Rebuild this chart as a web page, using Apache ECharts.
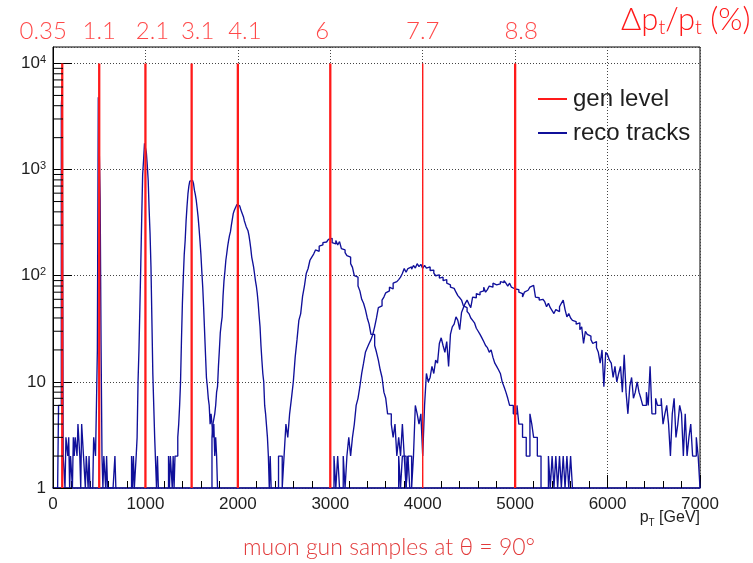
<!DOCTYPE html>
<html><head><meta charset="utf-8">
<script src="https://cdn.jsdelivr.net/npm/echarts@6/dist/echarts.min.js"></script>
<style>html,body{margin:0;padding:0;background:#fff}#c{width:753px;height:563px}</style>
</head><body><div id="c"></div>
<script>
// ---- data ----
const genPt = [100, 500, 1000, 1500, 2000, 3000, 4000, 5000];
const genCount = [10000, 10000, 10000, 10000, 10000, 10000, 10000, 10000];
const resLabels = ['0.35', '1.1', '2.1', '3.1', '4.1', '6', '7.7', '8.8'];
const xTickLabels = [0, 1000, 2000, 3000, 4000, 5000, 6000, 7000];

const recoStart = [50, 430, 850, 1250, 1720, 2400, 3040, 3740];
const recoBin = [10, 10, 10, 10, 10, 20, 20, 20];

const h100 = [1,6,6,6,3900,5900,2,2,1,3,3,2,3,1,2,2,1,3,2,3,3,2,4,4,2,1,4,4,2,2,1,2,2,1,2,1];
const h500 = [1,3,3,2,6,20,4800,4800,530,22,2,1,2,2,1,2,1,1,1,1,1,1,1,1,2,1];
const h1000 = [2,1,2,1,1,2,3,10,20,50,130,355,900,1230,1770,1770,1450,1100,790,420,250,120,38,12,6,3,3,1,2,1];
const h1500 = [2,1,2,2,1,2,1,2,2,2, 3,4,6,10,25,55,97,160,215,330, 450,590,700,780,800,790,760,740,640,580,
  512,430,357,280,215,160,110,78,50,30, 18,11,9,7,6,4,5,4,3,4, 2,3,2,1];
const h2000 = [3,4,4,5,6,8,9,14,20,29, 35,41,65,90,110,140,162,190,215,240, 260,300,340,385,410,430,450,470,465,455,
  440,425,400,380,360,330,310,290,280,265, 240,210,180,150,135,121,105,90,80,68, 55,42,33,22,16,12,10,6,5,5, 3,2,1,2,1];
const h3000 = [1,1,2,2,1,2,4,3,5,7, 10,17,25,38,44,64,80,105,117,140, 150,160,175,170,190,195,205,208,200,220,
  225,205,200,215,195,210,180,175,165,155, 150,130,120,100,97,80,72,60,55,48, 40,35,28,28,22,19,16,13,11,8,
  7,5,5,4,3,4,2,3,2,4, 2,1,2,1];
const h4000 = [2,1,2,1,1,2,1,2,3,2, 3,4,6,7,9,12,15,19,21,23, 25,28,33,40,50,52,59,63,69,72,
  78,75,85,88,90,92,97,105,117,108, 117,121,115,125,118,130,122,128,117,125, 118,121,112,113,106,100,102,95,97,90,
  92,85,82,78,76,73,70,65,62,59, 52,50,46,44,40,38,36,32,30,28, 26,24,22,21,19,20,17,15,14,13,
  12,10,9,8,7,6,6,5,5,6, 4,4,3,3,2,2,5,4,3,3, 2,2,1,1,1,1,2,1,2,1, 2,1,2,1,2,1,2,1,2,1];
const h5000 = [2,1,2,2,1,2,2,1,2,6, 5,4,5,2,6,12,10,11,14,12, 16,15,23,26,22,19,24,14,28,33,
  35,41,38,31,45,50,55,59,54,50, 63,62,68,66,70,72,78,70,74,80, 78,85,82,80,84,88,86,90,85,80,
  85,78,75,73,74,70,68,63,70,73, 75,78,81,80,63,62,59,60,60,57, 51,55,50,47,44,48,46,51,55,59,
  48,41,44,40,38,37,35,36,31,33, 23,30,28,27,25,23,24,21,19,15, 20,9,19,18,16,15,11,14,10,12,
  14,8,18,8,5,9,11,7,8,10, 8,7,6,6,8,6,14,5,5,7, 6,6,7,4,5,6,4,2,5,7, 3,4,6,5,2,5,2,3,4,2,2,3,2];
const recoCounts = [h100, h500, h1000, h1500, h2000, h3000, h4000, h5000];

// ---- layout / style (not data) ----
const yMin = 1, yMax = 14300;
const labelDx = [-19, 0, 7, 6, 7, -8, 0, 6];
const genWidth = [2.3, 2.3, 2.3, 2.3, 2.3, 2.3, 1.4, 2.3];
const RED = '#ff1a1a', BLUE = '#10109a', TXT = '#1e1e1e';

function histData(start, bin, counts) {
  const d = [[start, yMin]];
  counts.forEach((c, i) => d.push([start + i * bin, c]));
  const end = start + counts.length * bin;
  d.push([end, counts[counts.length - 1]]);
  d.push([end, yMin]);
  return d;
}
// y minor tick values (2..9 per decade)
const yMinor = [];
for (let dec = 1; dec < 10000; dec *= 10) for (let k = 2; k <= 9; k++) yMinor.push(k * dec);

const series = [];
recoCounts.forEach((cnt, i) => {
  series.push({
    name: 'reco tracks', type: 'line', step: 'end', symbol: 'none', showSymbol: false,
    data: histData(recoStart[i], recoBin[i], cnt),
    lineStyle: { color: BLUE, width: 1.35 }, itemStyle: { color: BLUE },
    z: 2, animation: false
  });
});
genPt.forEach((p, i) => {
  series.push({
    name: 'gen level', type: 'line', symbol: 'none', showSymbol: false,
    data: [[p, yMin], [p, genCount[i]]],
    lineStyle: { color: RED, width: genWidth[i] }, itemStyle: { color: RED },
    z: 4, animation: false
  });
});
series.push({
  type: 'custom', silent: true, z: 5, animation: false, clip: false,
  data: yMinor.map(v => [0, v]),
  renderItem: (params, api) => {
    const pt = api.coord([0, api.value(1)]);
    return { type: 'line', shape: { x1: pt[0], y1: pt[1], x2: pt[0] + 10, y2: pt[1] },
      style: { stroke: '#000', lineWidth: 1 } };
  }
});
series.push({
  type: 'scatter', silent: true, symbolSize: 0, z: 6, animation: false, clip: false,
  data: genPt.map(p => [p, yMax]),
  label: {
    show: true, position: 'inside',
    formatter: (p) => resLabels[p.dataIndex],
    color: RED, fontSize: 24, fontFamily: 'Lato', fontWeight: 300
  },
  labelLayout: (p) => ({ dx: labelDx[p.dataIndex], dy: -16 })
});

const chart = echarts.init(document.getElementById('c'), null, { renderer: 'canvas' });
chart.setOption({
  animation: false,
  backgroundColor: '#fff',
  grid: { left: 53, right: 53, top: 47, bottom: 75, show: true, borderColor: '#000', borderWidth: 1, backgroundColor: 'transparent' },
  legend: {
    data: [{ name: 'gen level', icon: 'rect' }, { name: 'reco tracks', icon: 'rect' }],
    orient: 'vertical', left: 533, top: 82,
    itemWidth: 29, itemHeight: 2, itemGap: 10, selectedMode: false,
    textStyle: { fontSize: 24, color: TXT, fontFamily: 'Liberation Sans', padding: [0, 0, 0, 1] }
  },
  xAxis: {
    type: 'value', min: 0, max: 7000, interval: 1000,
    axisLine: { show: true, lineStyle: { color: BLUE, width: 1.5 } },
    axisTick: { show: true, inside: true, length: 13, lineStyle: { color: '#000' } },
    minorTick: { show: true, splitNumber: 5, length: 7, lineStyle: { color: '#000' } },
    splitLine: { show: true, lineStyle: { type: [1, 2], color: '#444', width: 1 } },
    axisLabel: { fontSize: 17, color: TXT, fontFamily: 'Liberation Sans', margin: 8,
      formatter: (v) => xTickLabels.includes(v) ? String(v) : '' }
  },
  yAxis: {
    type: 'log', logBase: 10, min: yMin, max: yMax,
    axisLine: { show: true, lineStyle: { color: '#000', width: 1 } },
    axisTick: { show: true, inside: true, length: 19, lineStyle: { color: '#000' } },
    splitLine: { show: true, lineStyle: { type: [1, 2], color: '#444', width: 1 } },
    axisLabel: {
      fontSize: 17, color: TXT, fontFamily: 'Liberation Sans', margin: 7, showMaxLabel: false,
      formatter: (v) => {
        if (v > yMax * 0.9) return '';
        const e = Math.round(Math.log10(v));
        return e === 0 ? '1' : e === 1 ? '10' : '10{s|' + e + '}';
      },
      rich: { s: { fontSize: 11, color: TXT, fontFamily: 'Liberation Sans', verticalAlign: 'top', padding: [0, 0, 8, 0] } }
    }
  },
  graphic: [
    { type: 'text', left: 621, top: 4, z: 10,
      style: { text: 'Δp{s|t}/p{s|t} (%)', fontSize: 31, fontFamily: 'Lato', fontWeight: 300, fill: RED,
        rich: { s: { fontSize: 20, fontFamily: 'Lato', fontWeight: 300, fill: RED, padding: [17, 0, 0, 0] } } } },
    { type: 'text', left: 243, top: 536, z: 10,
      style: { text: 'muon gun samples at θ = 90°', fontSize: 23, fontFamily: 'Lato', fontWeight: 300, fill: '#e23a3a' } },
    { type: 'text', right: 53, top: 510, z: 10,
      style: { text: 'p{s|T} [GeV]', fontSize: 16, fontFamily: 'Liberation Sans', fill: TXT,
        rich: { s: { fontSize: 10, fontFamily: 'Liberation Sans', fill: TXT, padding: [10, 0, 0, 0] } } } }
  ],
  series: series
});
</script></body></html>
